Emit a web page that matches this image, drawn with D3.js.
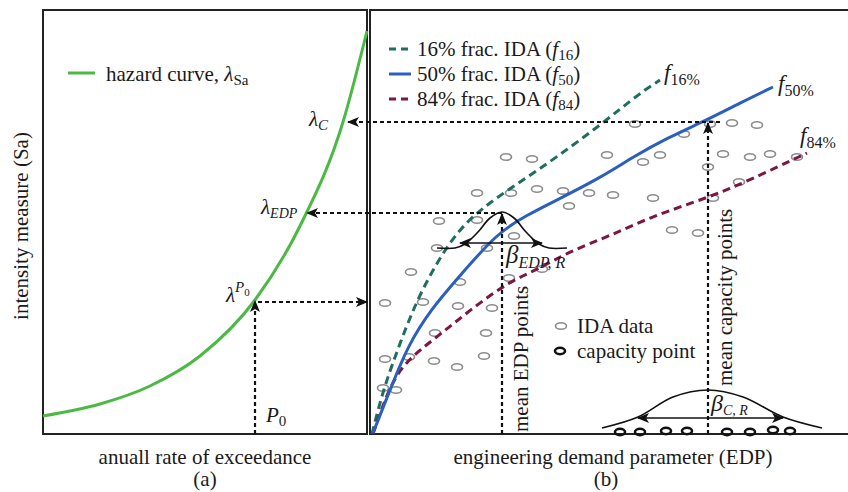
<!DOCTYPE html>
<html lang="en">
<head>
<meta charset="utf-8" />
<title>IDA hazard schematic</title>
<script src="https://cdn.jsdelivr.net/npm/d3@7"></script>
<style>
  body { margin: 0; background: #fff; }
  text { font-family: "Liberation Serif", "Times New Roman", serif; fill: #1a1a1a; }
</style>
</head>
<body>
<script>
// values (schematic units)
const hazard = [[0, 0.18], [0.57, 0.30], [1.07, 0.48], [1.57, 0.78], [2.12, 1.34], [2.57, 2.08], [3.0, 3.12], [3.24, 4.03]];

const f16 = [[0.02, 0], [0.13, 0.44], [0.30, 0.91], [0.50, 1.42], [0.83, 1.99], [1.13, 2.27], [1.50, 2.52], [1.87, 2.77], [2.33, 3.11], [2.70, 3.41], [2.90, 3.54]];
const f50 = [[0.03, 0.01], [0.20, 0.44], [0.38, 0.89], [0.62, 1.26], [0.88, 1.56], [1.27, 2.01], [1.57, 2.19], [1.87, 2.34], [2.30, 2.56], [2.63, 2.77], [2.97, 2.96], [3.37, 3.14], [3.70, 3.31], [4.03, 3.47]];
const f84 = [[0.03, 0], [0.17, 0.41], [0.33, 0.71], [0.67, 0.97], [1.00, 1.24], [1.40, 1.53], [1.67, 1.64], [2.00, 1.83], [2.40, 1.98], [2.80, 2.17], [3.40, 2.37], [3.80, 2.54], [4.37, 2.81]];

const idaPoints = [
  [1.36, 2.77], [1.62, 2.75], [1.07, 2.41], [1.41, 2.41], [1.67, 2.45], [1.93, 2.43], [2.19, 2.41], [2.37, 2.79],
  [1.99, 2.28], [0.69, 2.13], [1.07, 2.14], [1.44, 1.98], [0.67, 1.86], [1.17, 1.86], [0.41, 1.62], [0.90, 1.52],
  [1.39, 1.56], [1.72, 1.65], [2.65, 3.10], [3.14, 3.00], [3.40, 3.10], [3.62, 3.11], [3.87, 3.09], [2.73, 2.72],
  [2.90, 2.79], [3.53, 2.80], [3.80, 2.77], [4.00, 2.80], [4.27, 2.77], [3.38, 2.67], [3.69, 2.52], [2.43, 2.39],
  [2.83, 2.36], [3.43, 2.36], [3.02, 2.04], [3.28, 2.01], [0.15, 1.31], [0.53, 1.32], [0.88, 1.28], [1.22, 1.26],
  [0.65, 1.01], [1.16, 1.01], [0.15, 0.75], [0.39, 0.77], [0.64, 0.73], [0.87, 0.67], [1.14, 0.78], [0.13, 0.46],
  [0.26, 0.44]
];
const capacityPoints = [[2.50, 0.02], [2.70, 0.02], [2.96, 0.03], [3.17, 0.03], [3.57, 0.02], [3.80, 0.02], [4.03, 0.04], [4.20, 0.03]];

const edpBell = [[0.67, 1.86], [0.85, 1.86], [0.95, 1.90], [1.08, 2.02], [1.20, 2.16], [1.32, 2.22], [1.44, 2.16], [1.56, 2.02], [1.69, 1.90], [1.79, 1.86], [1.97, 1.86]];
const capBell = [[2.32, 0.06], [2.68, 0.17], [3.03, 0.37], [3.38, 0.44], [3.73, 0.37], [4.13, 0.17], [4.52, 0.06]];

const edpMean = 1.32, edpSa = 2.21, edpRate = 2.62;
const capMean = 3.38, capSa = 3.12, capRate = 3.02;
const p0Rate = 2.12, p0Sa = 1.34;
const edpBeta = [0.90, 1.72, 1.91];
const capBeta = [2.68, 4.13, 0.16];

const width = 848, height = 492;
const svg = d3.select("body").append("svg").attr("width", width).attr("height", height);

const xL = d3.scaleLinear().domain([0, 3.24]).range([43, 367]);
const xR = d3.scaleLinear().domain([0, 4.78]).range([370, 848]);
const y = d3.scaleLinear().domain([0, 4.24]).range([434, 10]);

// arrowhead
const defs = svg.append("defs");
defs.append("marker")
  .attr("id", "ah").attr("viewBox", "0 0 12 10")
  .attr("refX", 11).attr("refY", 5)
  .attr("markerWidth", 12).attr("markerHeight", 10)
  .attr("markerUnits", "userSpaceOnUse")
  .attr("orient", "auto-start-reverse")
  .append("path").attr("d", "M0,0 L12,5 L0,10 L3,5 z").attr("fill", "#111");

// frames
svg.append("rect").attr("x", 43).attr("y", 10).attr("width", 324).attr("height", 424)
  .attr("fill", "none").attr("stroke", "#222").attr("stroke-width", 2);
svg.append("path").attr("d", `M${width},10 H370 V434 H${width}`)
  .attr("fill", "none").attr("stroke", "#222").attr("stroke-width", 2);

const lineL = d3.line().x(d => xL(d[0])).y(d => y(d[1])).curve(d3.curveMonotoneX);
const lineR = d3.line().x(d => xR(d[0])).y(d => y(d[1])).curve(d3.curveBasis);
const bell = d3.line().x(d => xR(d[0])).y(d => y(d[1])).curve(d3.curveCatmullRom);

// IDA points
svg.append("g").selectAll("ellipse").data(idaPoints).join("ellipse")
  .attr("cx", d => xR(d[0])).attr("cy", d => y(d[1]))
  .attr("rx", 5.5).attr("ry", 3.3)
  .attr("fill", "none").attr("stroke", "#8c8c8c").attr("stroke-width", 1.6);

svg.append("g").selectAll("ellipse").data(capacityPoints).join("ellipse")
  .attr("cx", d => xR(d[0])).attr("cy", d => y(d[1]))
  .attr("rx", 5).attr("ry", 3.2)
  .attr("fill", "none").attr("stroke", "#111").attr("stroke-width", 2.6);

// fractile curves
svg.append("path").attr("d", lineR(f16)).attr("fill", "none")
  .attr("stroke", "#1f6e5e").attr("stroke-width", 3).attr("stroke-dasharray", "8,5");
svg.append("path").attr("d", lineR(f84)).attr("fill", "none")
  .attr("stroke", "#7b1742").attr("stroke-width", 3).attr("stroke-dasharray", "8,5");
svg.append("path").attr("d", lineR(f50)).attr("fill", "none")
  .attr("stroke", "#2b5fbd").attr("stroke-width", 3);

// hazard curve
svg.append("path").attr("d", lineL(hazard)).attr("fill", "none")
  .attr("stroke", "#4cb944").attr("stroke-width", 3);

// distributions
svg.append("path").attr("d", bell(edpBell)).attr("fill", "none").attr("stroke", "#111").attr("stroke-width", 1.6);
svg.append("path").attr("d", bell(capBell)).attr("fill", "none").attr("stroke", "#111").attr("stroke-width", 1.6);
svg.append("line").attr("x1", xR(edpBeta[0])).attr("x2", xR(edpBeta[1]))
  .attr("y1", y(edpBeta[2])).attr("y2", y(edpBeta[2]))
  .attr("stroke", "#111").attr("stroke-width", 1.6)
  .attr("marker-start", "url(#ah)").attr("marker-end", "url(#ah)");
svg.append("line").attr("x1", xR(capBeta[0])).attr("x2", xR(capBeta[1]))
  .attr("y1", y(capBeta[2])).attr("y2", y(capBeta[2]))
  .attr("stroke", "#111").attr("stroke-width", 1.6)
  .attr("marker-start", "url(#ah)").attr("marker-end", "url(#ah)");

// dashed guide arrows
function guide(x1, y1, x2, y2, head) {
  const l = svg.append("line").attr("x1", x1).attr("y1", y1).attr("x2", x2).attr("y2", y2)
    .attr("stroke", "#111").attr("stroke-width", 2.2).attr("stroke-dasharray", "4,3");
  if (head) l.attr("marker-end", "url(#ah)");
}
guide(xR(edpMean), y(0), xR(edpMean), y(edpSa) + 1, true);
guide(xR(edpMean), y(edpSa), xL(edpRate) + 2, y(edpSa), true);
guide(xR(capMean), y(0), xR(capMean), y(capSa) + 1, true);
guide(xR(capMean) + 12, y(capSa), xL(capRate) + 3, y(capSa), true);
guide(xL(p0Rate), y(0), xL(p0Rate), y(p0Sa) + 1, true);
guide(xL(p0Rate) + 3, y(p0Sa) + 2, 367, y(p0Sa) + 2, true);

// rich text helper: parts = [text, italic, dy, size]
function label(x, yy, size, parts, rotate) {
  const t = svg.append("text").attr("x", x).attr("y", yy).style("font-size", size + "px");
  if (rotate) t.attr("transform", `rotate(-90,${x},${yy})`);
  parts.forEach(([s, it, dy, sz]) => {
    t.append("tspan").text(s).attr("dy", dy || 0)
      .style("font-style", it ? "italic" : "normal")
      .style("font-size", (sz || size) + "px");
  });
  return t;
}

// left legend
svg.append("line").attr("x1", 68).attr("x2", 95).attr("y1", 73).attr("y2", 73)
  .attr("stroke", "#4cb944").attr("stroke-width", 3);
label(106, 81, 21, [["hazard curve, "], ["λ", true], ["Sa", false, 4, 15]]);

// right legend
const legend = [
  { color: "#1f6e5e", dash: "7,5", pct: "16%", sub: "16" },
  { color: "#2b5fbd", dash: null, pct: "50%", sub: "50" },
  { color: "#7b1742", dash: "7,5", pct: "84%", sub: "84" }
];
legend.forEach((d, i) => {
  const yy = 49 + i * 25;
  const l = svg.append("line").attr("x1", 389).attr("x2", 411).attr("y1", yy).attr("y2", yy)
    .attr("stroke", d.color).attr("stroke-width", 3);
  if (d.dash) l.attr("stroke-dasharray", d.dash);
  label(417, yy + 7, 21, [[d.pct + " frac. IDA ("], ["f", true], [d.sub, false, 4, 15], [")", false, -4]]);
});

// curve tags
label(664, 80, 23, [["f", true], ["16%", false, 5, 16]]);
label(778, 91, 23, [["f", true], ["50%", false, 5, 16]]);
label(800, 143, 23, [["f", true], ["84%", false, 5, 16]]);

// lambda labels
label(309, 126, 21, [["λ", true], ["C", true, 4, 15]]);
label(261, 214, 21, [["λ", true], ["EDP", true, 4, 14]]);
label(226, 302, 21, [["λ", true], ["P", true, -10, 15], ["0", false, 4, 11]]);
label(266, 422, 21, [["P", true], ["0", false, 4, 15]]);

// beta labels
label(506, 263, 25, [["β", true], ["EDP, R", true, 5, 16]]);
label(711, 411, 24, [["β", true], ["C, R", true, 4, 14]]);

// vertical texts
label(528, 432, 21, [["mean EDP points"]], true);
label(732, 386, 21, [["mean capacity points"]], true);

// IDA legend
svg.append("ellipse").attr("cx", 561).attr("cy", 326).attr("rx", 5.5).attr("ry", 3.3)
  .attr("fill", "none").attr("stroke", "#8c8c8c").attr("stroke-width", 1.6);
label(577, 333, 21, [["IDA data"]]);
svg.append("ellipse").attr("cx", 560).attr("cy", 351).attr("rx", 5).attr("ry", 3.2)
  .attr("fill", "none").attr("stroke", "#111").attr("stroke-width", 2.6);
label(577, 358, 21, [["capacity point"]]);

// axis titles
label(28, 226, 21, [["intensity measure (Sa)"]], true).attr("text-anchor", "middle");
label(205, 464, 21, [["anuall rate of exceedance"]]).attr("text-anchor", "middle");
label(205, 486, 21, [["(a)"]]).attr("text-anchor", "middle");
label(613, 464, 21, [["engineering demand parameter (EDP)"]]).attr("text-anchor", "middle");
label(606, 486, 21, [["(b)"]]).attr("text-anchor", "middle");
</script>
</body>
</html>
